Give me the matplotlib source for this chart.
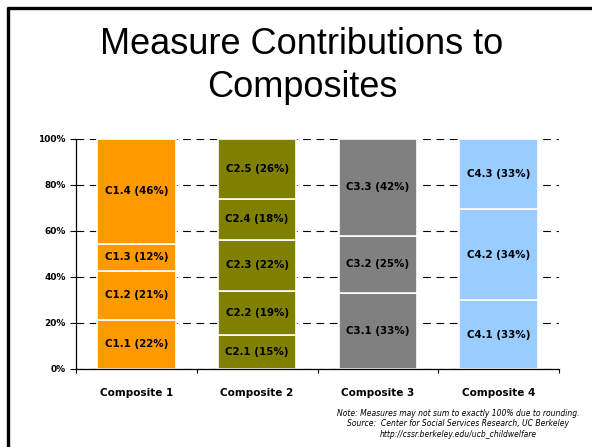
import numpy as np
import matplotlib
matplotlib.use('Agg')
import matplotlib.pyplot as plt
from matplotlib.lines import Line2D

composites = ['Composite 1', 'Composite 2', 'Composite 3', 'Composite 4']
colors = ['#FF9900', '#808000', '#808080', '#99CCFF']

# segment shares (% of bar), bottom to top
shares = [
    [21.5, 21, 12, 45.5],
    [15, 19, 22, 18, 26],
    [33, 25, 42],
    [30, 39.5, 30.5],
]
seg_labels = [
    ['C1.1 (22%)', 'C1.2 (21%)', 'C1.3 (12%)', 'C1.4 (46%)'],
    ['C2.1 (15%)', 'C2.2 (19%)', 'C2.3 (22%)', 'C2.4 (18%)', 'C2.5 (26%)'],
    ['C3.1 (33%)', 'C3.2 (25%)', 'C3.3 (42%)'],
    ['C4.1 (33%)', 'C4.2 (34%)', 'C4.3 (33%)'],
]
yticks = [0, 20, 40, 60, 80, 100]
title_lines = ['Measure Contributions to', 'Composites']
note = ('Note: Measures may not sum to exactly 100% due to rounding.\n'
        'Source:  Center for Social Services Research, UC Berkeley\n'
        'http://cssr.berkeley.edu/ucb_childwelfare')

W, H = 592, 447
fig = plt.figure(figsize=(W / 100, H / 100), dpi=100)
ax = fig.add_axes([76 / W, 1 - 369 / H, (559 - 76) / W, (369 - 139) / H])

x = np.arange(len(composites))
for i in range(len(composites)):
    bottom = 0
    for h, lab in zip(shares[i], seg_labels[i]):
        ax.bar(x[i], h, bottom=bottom, width=0.65, color=colors[i],
               edgecolor='white', linewidth=1.2, zorder=2)
        ax.text(x[i], bottom + h / 2, lab, ha='center', va='center',
                fontsize=7.4, fontweight='bold', zorder=3)
        bottom += h

ax.set_xlim(-0.5, len(composites) - 0.5)
ax.set_ylim(0, 100)
ax.set_yticks(yticks)
ax.set_yticklabels([f'{v}%' for v in yticks], fontsize=6.5, fontweight='bold')
ax.set_xticks(x)
ax.set_xticklabels(composites, fontsize=7.5, fontweight='bold')
ax.set_xticks(np.arange(len(composites) + 1) - 0.5, minor=True)
ax.tick_params(axis='x', which='major', length=0, pad=14)
ax.tick_params(axis='x', which='minor', length=3, width=0.8, direction='out')
ax.tick_params(axis='y', length=4.5, width=0.8, pad=3)

ax.yaxis.grid(True, color='black', linestyle=(0, (7, 5)), linewidth=0.8)
ax.set_axisbelow(True)
for s in ['top', 'right']:
    ax.spines[s].set_visible(False)
for s in ['left', 'bottom']:
    ax.spines[s].set_linewidth(0.9)

# title, two lines placed by baseline
for line, base in zip(title_lines, [54, 97]):
    fig.text(302 / W, 1 - base / H, line, ha='center', va='baseline',
             fontsize=26, family='Liberation Sans')
fig.text(458 / W, 1 - 424 / H, note, ha='center', va='center', fontsize=5.5,
         style='italic', linespacing=1.25)

# slide frame
fig.add_artist(Line2D([7 / W, 1], [1 - 8 / H] * 2, lw=2.4, color='black',
                      solid_capstyle='butt', transform=fig.transFigure))
fig.add_artist(Line2D([8 / W] * 2, [0, 1 - 7 / H], lw=2.4, color='black',
                      solid_capstyle='butt', transform=fig.transFigure))

fig.savefig('out.png', dpi=100)
